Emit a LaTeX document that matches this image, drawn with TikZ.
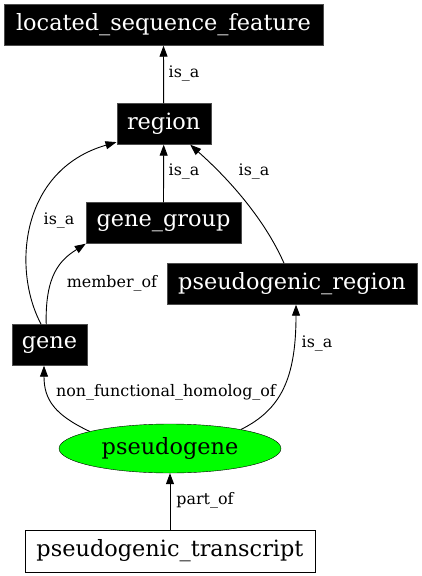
\documentclass[tikz,border=0pt]{standalone}
\usepackage{fontspec}
\setmainfont{DejaVu Serif}
\usetikzlibrary{arrows.meta,shapes.geometric}
\tikzset{
  blk/.style={rectangle, fill=black, draw=black!70, text=white, inner sep=0pt,
    minimum height=41pt, font=\fontsize{22.4}{26}\selectfont},
  wht/.style={rectangle, fill=white, draw=black, text=black, inner sep=0pt,
    minimum height=42pt, font=\fontsize{22.4}{26}\selectfont},
  grn/.style={ellipse, fill=green, draw=black, text=black, inner sep=0pt,
    minimum width=222pt, minimum height=49pt, font=\fontsize{22.4}{26}\selectfont},
  lbl/.style={inner sep=0pt, font=\fontsize{15.9}{18}\selectfont},
  edge/.style={draw=black, line width=0.9pt, -{Triangle[length=11pt,width=8pt]}},
}
\begin{document}
\begin{tikzpicture}[x=1pt,y=-1pt]
\useasboundingbox (0,0) rectangle (421,576);
\node[blk, minimum width=319pt] (lsf) at (163.5,25) {located\_sequence\_feature};
\node[blk, minimum width=94pt] (region) at (163.7,124) {region};
\node[blk, minimum width=155pt] (gg) at (163.5,223) {gene\_group};
\node[blk, minimum width=250pt] (pr) at (292,284) {pseudogenic\_region};
\node[blk, minimum width=75pt] (gene) at (49.5,345) {gene};
\node[grn] (pg) at (170,448.5) {pseudogene};
\node[wht, minimum width=290pt] (pt) at (170,551) {pseudogenic\_transcript};

\draw[edge] (region.north) -- (lsf.south);
\draw[edge] (gg.north) -- (region.south);
\draw[edge] (pr.111) .. controls (265,220) and (230,180) .. (region.322);
\draw[edge] (gene.112) .. controls (12,270) and (20,170) .. (region.201);
\draw[edge] (gene.99) .. controls (45,275) and (60,260) .. (gg.south west);
\draw[edge] (pg.168) .. controls (55,415) and (44,400) .. (gene.south -| 44,0);
\draw[edge] (pg.15) .. controls (280,410) and (296,380) .. (pr.281);
\draw[edge] (pt.north) -- (pg.south);

\node[lbl] (l1) at (184,74) {is\_a};
\node[lbl] (l2) at (184,172) {is\_a};
\node[lbl] (l3) at (254,172) {is\_a};
\node[lbl] (l4) at (59,221) {is\_a};
\node[lbl] (l5) at (112,283) {member\_of};
\node[lbl] (l6) at (317,344) {is\_a};
\node[lbl] (l7) at (166,392) {non\_functional\_homolog\_of};
\node[lbl] (l8) at (205,500) {part\_of};
\end{tikzpicture}
\end{document}
